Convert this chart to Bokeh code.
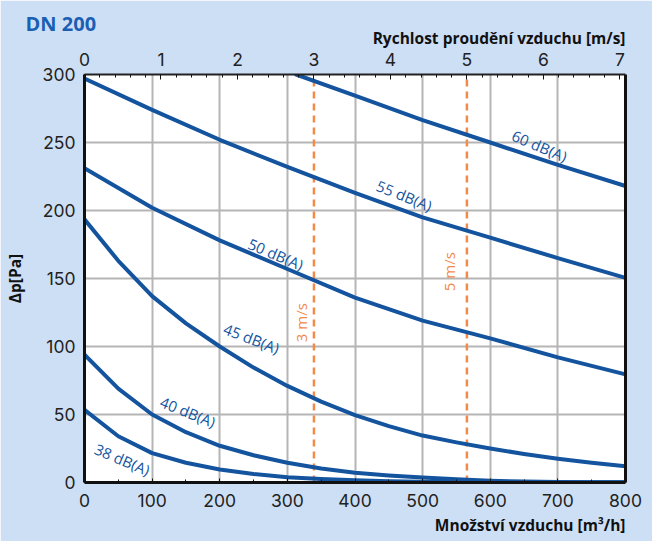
import math
from bokeh.plotting import figure
from bokeh.models import (ColumnDataSource, LinearAxis, Range1d, SingleIntervalTicker,
                          FixedTicker, Title)
from bokeh.core.properties import value
from bokeh.embed import file_html
from bokeh.resources import INLINE

# ---------------- data ----------------
title_text = "DN 200"
x_label = "Množství vzduchu [m³/h]"
x2_label = "Rychlost proudění vzduchu [m/s]"
y_label = "Δp[Pa]"

duct_diameter_m = 0.2
airflow_max = 800
dp_max = 300

airflow_60 = [313, 400, 500, 600, 700, 800]
dp_60 = [300, 284.5, 266.5, 250, 233.5, 218]

airflow_100 = [0, 100, 200, 300, 400, 500, 600, 700, 800]
dp_55 = [297, 274, 252, 232, 213, 195, 180, 165, 150.5]
dp_50 = [231, 202, 178, 157, 136, 119, 106, 92, 79.5]

airflow_50 = [0, 50, 100, 150, 200, 250, 300, 350, 400, 450, 500, 550, 600, 650, 700, 750, 800]
dp_45 = [193.5, 163, 137, 117, 100, 84.5, 71, 59.5, 49.5, 41.5, 34.5, 29.5, 25, 21, 17.5, 14.5, 12]
dp_40 = [94, 69, 50, 37, 27, 20, 14.5, 10.3, 7.2, 5.2, 3.6, 2.3, 1.3, 0.7, 0.4, 0.2, 0.1]
dp_38 = [53.5, 34, 21.6, 14.5, 9.6, 6.3, 3.8, 2.5, 1.6, 1.0, 0.6, 0.4, 0.3, 0.2, 0.1, 0.1, 0.1]

curve_names = ["60 dB(A)", "55 dB(A)", "50 dB(A)", "45 dB(A)", "40 dB(A)", "38 dB(A)"]
speed_marks = [3, 5]
speed_labels = ["3 m/s", "5 m/s"]

# label placement (positions, not data)
curve_label_x = [673, 473, 283, 247, 153, 56]
curve_label_y = [247.5, 211, 168, 106, 52, 17]
curve_label_angle_deg = [-23, -22, -23, -21, -22, -23]
speed_label_offset_px = [-13, -18]
speed_label_y = [117.5, 155]

# ---------------- styling ----------------
BG = "#cddff5"
BLUE = "#14549e"
TITLE_BLUE = "#1b5fb5"
ORANGE = "#f28a4a"
GRID = "#b5b5b5"
TICK_FONT = "Inter"
LABEL_FONT = "Open Sans"

vel_max = airflow_max / 3600.0 / (math.pi * (duct_diameter_m / 2) ** 2)

p = figure(width=652, height=541,
           x_range=Range1d(0, airflow_max), y_range=Range1d(0, dp_max),
           output_backend="svg", toolbar_location=None,
           background_fill_color="white", border_fill_color=BG,
           min_border_left=80, min_border_right=27, min_border_top=74, min_border_bottom=59,
           outline_line_color=None)
p.extra_x_ranges = {"vel": Range1d(0, vel_max)}

xa = p.xaxis[0]
xa.ticker = SingleIntervalTicker(interval=100, num_minor_ticks=2)
ya = p.yaxis[0]
ya.ticker = SingleIntervalTicker(interval=50, num_minor_ticks=0)

top = LinearAxis(x_range_name="vel",
                 ticker=SingleIntervalTicker(interval=1, num_minor_ticks=5))
p.add_layout(top, "above")

for ax in (xa, ya, top):
    ax.axis_line_width = 3
    ax.axis_line_color = "#111111"
    ax.major_label_text_font = TICK_FONT
    ax.major_label_text_font_size = "17.5px"
    ax.major_label_text_color = "#222222"
    ax.major_tick_out = 0
    ax.minor_tick_out = 0
    ax.major_tick_line_color = "#111111"
    ax.minor_tick_line_color = "#111111"
    ax.axis_label_text_font = LABEL_FONT
    ax.axis_label_text_font_style = "bold"
    ax.axis_label_text_font_size = "15.5px"
    ax.axis_label_text_color = "#111111"

xa.major_tick_in = 4
xa.minor_tick_in = 3
xa.major_label_standoff = 11

top.axis_line_width = 2
top.axis_line_color = "#222222"
top.major_tick_in = 5
top.minor_tick_in = 3
top.major_label_standoff = 9

ya.major_tick_in = 0
ya.minor_tick_in = 0
ya.major_label_standoff = 9
ya.axis_label = y_label
ya.axis_label_standoff = 14

right = LinearAxis(ticker=FixedTicker(ticks=[]), axis_line_width=3, axis_line_color="#111111",
                   major_label_text_font_size="0px", major_tick_in=0, major_tick_out=0,
                   minor_tick_in=0, minor_tick_out=0)
p.add_layout(right, "right")

# caption of the top (velocity) axis, right-aligned with the frame
vel_title = Title(text=x2_label, align="right", standoff=2,
                  text_font=LABEL_FONT, text_font_style="bold", text_font_size="15.5px",
                  text_color="#111111")
p.add_layout(vel_title, "above")

# chart title, top-left
title = Title(text=title_text, align="left", offset=-59,
              text_font=LABEL_FONT, text_font_style="bold", text_font_size="20px",
              text_color=TITLE_BLUE)
try:
    title.standoff = -27
except Exception:
    pass
p.add_layout(title, "above")

# caption of the bottom (airflow) axis, right-aligned
x_title = Title(text=x_label, align="right", standoff=4,
                text_font=LABEL_FONT, text_font_style="bold", text_font_size="15.5px",
                text_color="#111111")
p.add_layout(x_title, "below")

p.xgrid.grid_line_color = GRID
p.xgrid.grid_line_width = 2
p.ygrid.grid_line_color = GRID
p.ygrid.grid_line_width = 2

# speed marks (dashed verticals on the velocity scale)
p.segment(x0=speed_marks, y0=[0] * len(speed_marks), x1=speed_marks, y1=[dp_max] * len(speed_marks),
          x_range_name="vel", line_color=ORANGE, line_width=2.5, line_dash="7 5")

speed_src = ColumnDataSource(dict(x=speed_marks, y=speed_label_y, t=speed_labels,
                                  xo=speed_label_offset_px))
p.text(x="x", y="y", text="t", x_offset="xo", source=speed_src, x_range_name="vel",
       angle=math.pi / 2, text_align="center", text_baseline="middle",
       text_color=ORANGE, text_font=value(LABEL_FONT), text_font_size="15px")

# curves
curves = [(airflow_60, dp_60), (airflow_100, dp_55), (airflow_100, dp_50),
          (airflow_50, dp_45), (airflow_50, dp_40), (airflow_50, dp_38)]
for xs, ys in curves:
    p.line(xs, ys, line_color=BLUE, line_width=4, line_join="round", line_cap="round")

lab_src = ColumnDataSource(dict(x=curve_label_x, y=curve_label_y, t=curve_names,
                                a=[math.radians(a) for a in curve_label_angle_deg]))
p.text(x="x", y="y", text="t", angle="a", source=lab_src,
       text_align="center", text_baseline="middle",
       text_color=BLUE, text_font=value(LABEL_FONT), text_font_size="15px")

open("out.html", "w").write(file_html(p, INLINE))
